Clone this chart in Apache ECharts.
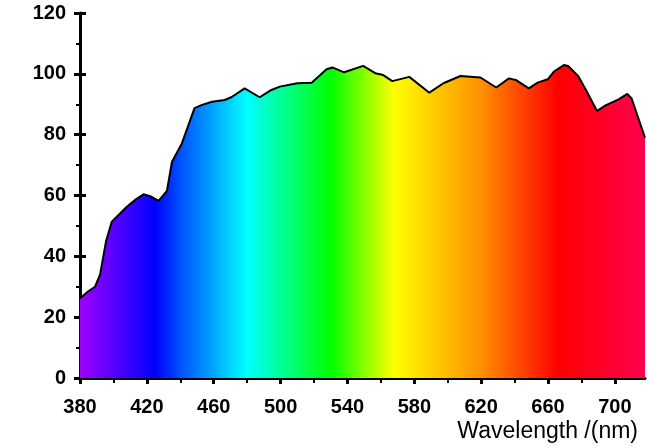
<!DOCTYPE html>
<html><head><meta charset="utf-8">
<script src="https://cdn.jsdelivr.net/npm/echarts@6/dist/echarts.min.js"></script>
<style>html,body{margin:0;padding:0;background:#fff}#c{width:652px;height:448px}</style>
</head><body><div id="c"></div>
<script>
const wavelengths = [380, 385, 389, 392, 395.6, 399, 402, 408, 413.6, 418, 422, 427, 432, 435, 441, 448.5, 453, 459, 466.5, 470.5, 478.5, 487.5, 494.5, 499.5, 510, 518.6, 527.5, 531, 538, 549.4, 556.6, 561.4, 566.8, 577, 589, 597.4, 607.6, 619.6, 629, 636.6, 640.7, 648.5, 653.8, 659.8, 663.5, 669.5, 672, 678, 682.7, 689.3, 694.7, 702.2, 707.4, 710, 718];
const intensities = [26.2, 28.5, 30, 34, 45, 51.4, 53, 56.3, 58.8, 60.4, 59.8, 58.2, 61.5, 71, 77.2, 88.7, 89.8, 90.8, 91.4, 92.3, 95.2, 92.3, 94.7, 95.8, 96.9, 97.1, 101.5, 102.1, 100.5, 102.6, 100.2, 99.6, 97.6, 99.0, 93.8, 96.9, 99.3, 98.8, 95.5, 98.5, 98, 95.2, 97.1, 98.2, 100.7, 102.9, 102.6, 99.3, 94.7, 87.8, 89.7, 91.6, 93.4, 91.9, 79];
const xTicks = [380, 420, 460, 500, 540, 580, 620, 660, 700];
const xMinorTicks = [400, 440, 480, 520, 560, 600, 640, 680];
const colorStopWavelengths = [380, 425, 440, 480, 530, 568, 620, 666, 718];
const colorStopColors = ['#a000ff', '#0000ff', '#0050ff', '#00ffff', '#00ff00', '#ffff00', '#ff9000', '#ff0000', '#ff0050'];

const X_MIN = 380, X_MAX = 718;
const FONT = "'Liberation Sans', Arial, sans-serif";
const stops = colorStopWavelengths.map((w, i) => ({ offset: (w - X_MIN) / (X_MAX - X_MIN), color: colorStopColors[i] }));

const chart = echarts.init(document.getElementById('c'), null, { renderer: 'canvas' });
const blank = { axisLine: { show: false }, axisLabel: { show: false }, splitLine: { show: false } };
chart.setOption({
  animation: false,
  backgroundColor: '#fff',
  grid: { left: 80, top: 13, right: 7, bottom: 70, containLabel: false },
  xAxis: [
    { type: 'value', min: X_MIN, max: X_MAX, position: 'bottom',
      axisLine: { show: true, onZero: false, lineStyle: { color: '#000', width: 3 } },
      axisTick: { show: true, customValues: xTicks, length: 6, lineStyle: { color: '#000', width: 3 } },
      axisLabel: { customValues: xTicks, margin: 19, fontSize: 20, fontWeight: 'bold', color: '#000', fontFamily: FONT },
      splitLine: { show: false } },
    Object.assign({ type: 'value', min: X_MIN, max: X_MAX, position: 'bottom',
      axisTick: { show: true, inside: true, customValues: xTicks, length: 6, lineStyle: { color: '#000', width: 3 } } }, blank),
    Object.assign({ type: 'value', min: X_MIN, max: X_MAX, position: 'bottom',
      axisTick: { show: true, customValues: xMinorTicks, length: 5, lineStyle: { color: '#000', width: 2 } } }, blank)
  ],
  yAxis: [
    { type: 'value', min: 0, max: 120, interval: 20, position: 'left',
      axisLine: { show: true, onZero: false, lineStyle: { color: '#000', width: 3 } },
      axisTick: { show: true, length: 6, lineStyle: { color: '#000', width: 3 } },
      minorTick: { show: true, splitNumber: 2, length: 4, lineStyle: { color: '#000', width: 2 } },
      axisLabel: { margin: 14, fontSize: 20, fontWeight: 'bold', color: '#000', fontFamily: FONT },
      splitLine: { show: false }, minorSplitLine: { show: false } },
    Object.assign({ type: 'value', min: 0, max: 120, interval: 20, position: 'left',
      axisTick: { show: true, inside: true, length: 6, lineStyle: { color: '#000', width: 3 } } }, blank)
  ],
  graphic: [{
    type: 'text', right: 14, top: 420,
    style: { text: 'Wavelength /(nm)', font: "23px 'Liberation Sans', Arial, sans-serif", fill: '#000' }
  }],
  series: [{
    type: 'line', xAxisIndex: 0, yAxisIndex: 0,
    data: wavelengths.map((w, i) => [w, intensities[i]]),
    symbol: 'none', smooth: false,
    lineStyle: { color: '#000', width: 2 },
    areaStyle: { opacity: 1, color: new echarts.graphic.LinearGradient(0, 0, 1, 0, stops) }
  }]
});
</script></body></html>
